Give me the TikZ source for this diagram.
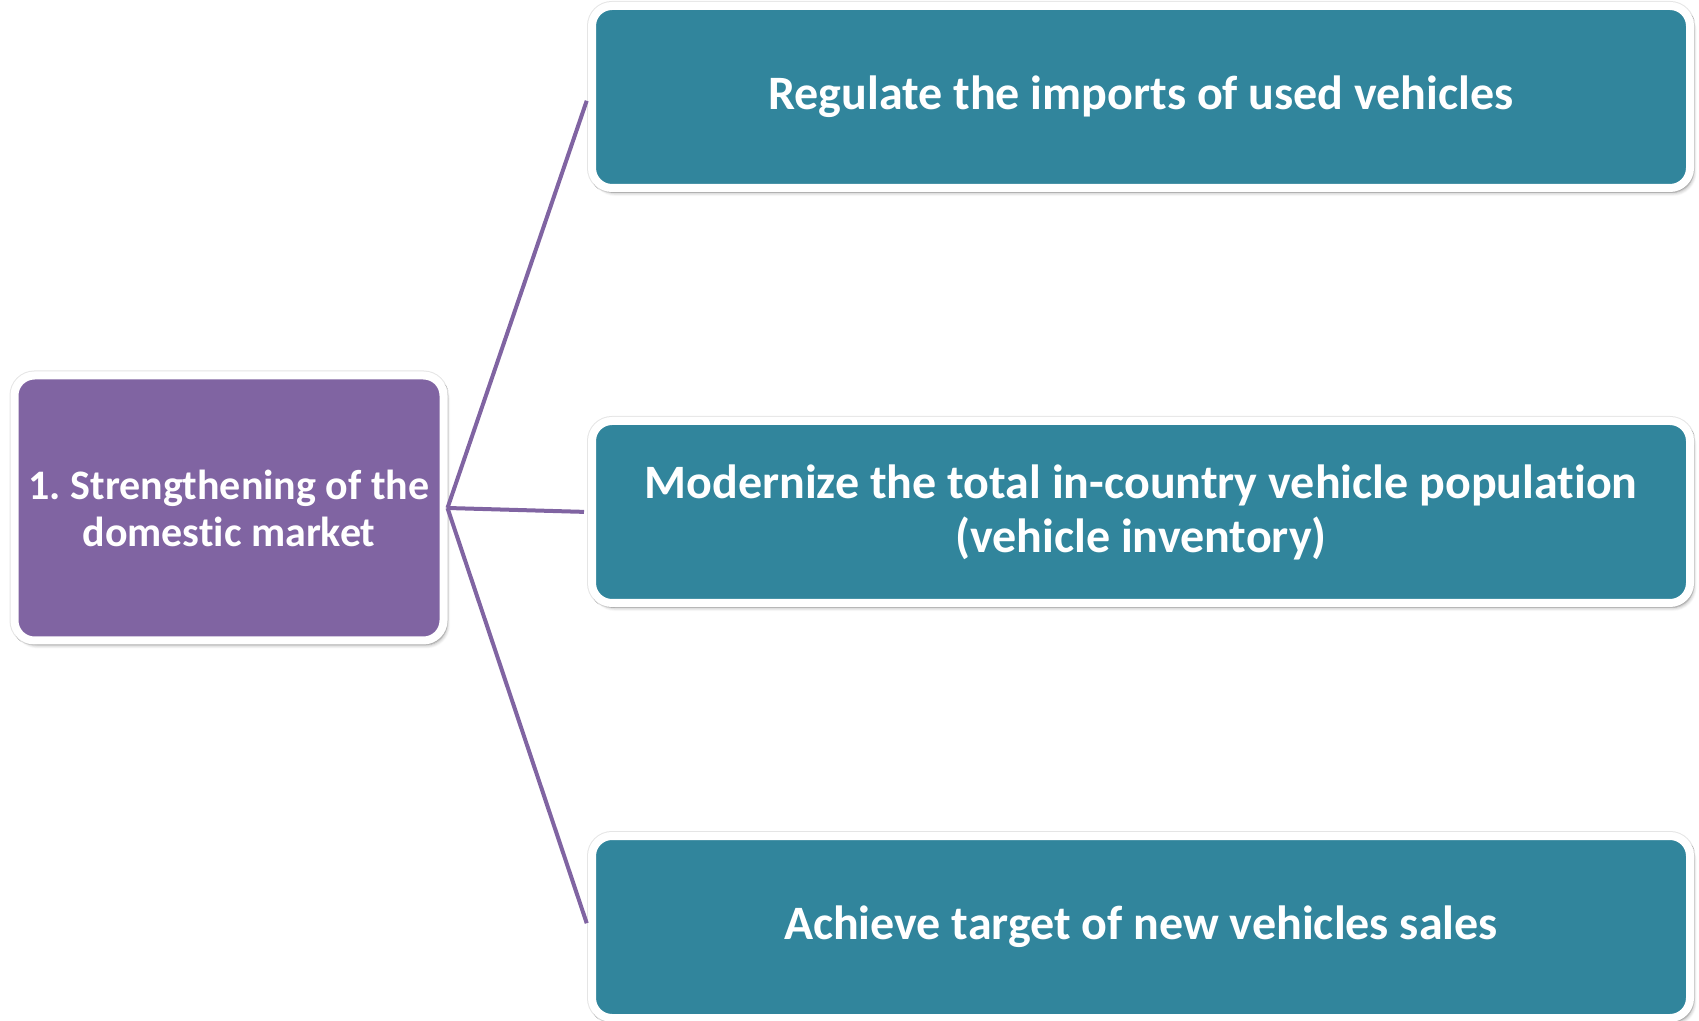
\documentclass[tikz,border=0pt]{standalone}
\usepackage{fontspec}
\setmainfont{Carlito}[Ligatures={CommonOff}]
\usetikzlibrary{shadows.blur}
\definecolor{purp}{HTML}{8064A2}
\definecolor{tealc}{HTML}{31859C}
\frenchspacing
\begin{document}
\begin{tikzpicture}[x=0.5pt,y=-0.5pt,
  box/.style={draw=white, line width=4pt, rounded corners=10pt, text=white,
    align=center, inner sep=0pt,
    preaction={draw=black!10, line width=5pt},
    blur shadow={shadow xshift=1.5pt, shadow yshift=-2.2pt, shadow opacity=40, shadow blur steps=6}},
  tealbox/.style={box, fill=tealc, minimum width=549pt, minimum height=91pt,
    font=\bfseries\fontsize{24}{27}\selectfont},
  purpbox/.style={box, fill=purp, minimum width=214.5pt, minimum height=132.5pt,
    font=\bfseries\fontsize{21}{23.5}\selectfont},
  conn/.style={draw=purp, line width=2pt, shorten >=2pt}]
\useasboundingbox (0,0) rectangle (1699,1021);
\node[purpbox] (L) at (229,508) {1. Strengthening of the\\domestic market};
\node[tealbox] (T) at (1141,97) {Regulate the imports of used vehicles};
\node[tealbox] (M) at (1141,512) {Modernize the total in-country vehicle population\\(vehicle inventory)};
\node[tealbox] (B) at (1141,927) {Achieve target of new vehicles sales};
\draw[conn] (L.east) -- (T.west);
\draw[conn] (L.east) -- (M.west);
\draw[conn] (L.east) -- (B.west);
\end{tikzpicture}
\end{document}
